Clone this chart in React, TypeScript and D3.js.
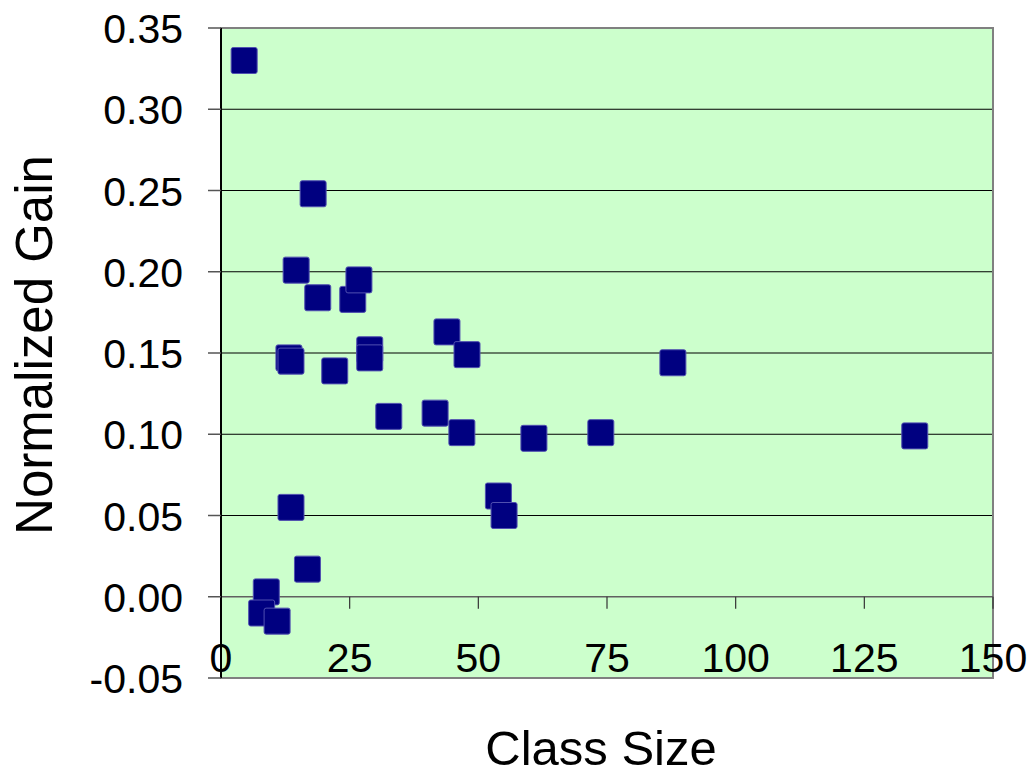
import React from "react";
import * as d3 from "d3";

const classSize = [4.5, 17.9, 14.6, 18.8, 25.6, 26.8, 13.2, 13.6, 22.1, 28.9, 28.9, 43.9, 47.8, 32.6, 41.6, 46.8, 60.8, 73.8, 87.8, 134.8, 53.9, 55.0, 13.6, 16.8, 8.8, 7.9, 10.9];
const normalizedGain = [0.330, 0.248, 0.201, 0.184, 0.183, 0.195, 0.147, 0.145, 0.139, 0.152, 0.147, 0.163, 0.149, 0.111, 0.113, 0.101, 0.0975, 0.101, 0.144, 0.099, 0.062, 0.050, 0.055, 0.017, 0.003, -0.010, -0.015];
const xTicks = [0, 25, 50, 75, 100, 125, 150];
const yTicks = [-0.05, 0, 0.05, 0.1, 0.15, 0.2, 0.25, 0.3, 0.35];

const W = 1034, H = 775;
const L = 221, R = 993, T = 28, B = 678;
const FONT = "'Liberation Sans', Arial, sans-serif";

export default function App() {
  const x = d3.scaleLinear().domain([0, 150]).range([L, R]);
  const y = d3.scaleLinear().domain([-0.05, 0.35]).range([B, T]);
  const ms = 26;
  const fmt = (t: number) => d3.format(".2f")(t).replace("\u2212", "-");
  return (
    <svg width={W} height={H} style={{ position: "absolute", left: 0, top: 0 }} fontFamily={FONT}>
      <rect x={0} y={0} width={W} height={H} fill="#ffffff" />
      <rect x={L} y={T} width={R - L} height={B - T} fill="#ccffcc" />
      {yTicks.filter(t => t > -0.05 && t < 0.35 && t !== 0).map(t => (
        <line key={"g" + t} x1={L} x2={R} y1={y(t)} y2={y(t)} stroke="#000000" strokeWidth={1.2} />
      ))}
      <rect x={L} y={T} width={R - L} height={B - T} fill="none" stroke="#808080" strokeWidth={2} />
      <line x1={L} x2={R} y1={y(0)} y2={y(0)} stroke="#606060" strokeWidth={1.5} />
      {xTicks.map(t => (
        <line key={"xt" + t} x1={x(t)} x2={x(t)} y1={y(0)} y2={y(0) + 12} stroke="#333333" strokeWidth={1.2} />
      ))}
      <line x1={L} x2={L} y1={T} y2={B} stroke="#000000" strokeWidth={2} />
      {yTicks.map(t => (
        <line key={"yt" + t} x1={L - 13} x2={L} y1={y(t)} y2={y(t)} stroke="#555555" strokeWidth={1.5} />
      ))}
      {yTicks.map(t => (
        <text key={"yl" + t} x={183} y={y(t) + 15} textAnchor="end" fontSize={41} fill="#000">
          {fmt(t)}
        </text>
      ))}
      {xTicks.map(t => (
        <text key={"xl" + t} x={x(t)} y={672} textAnchor="middle" fontSize={41} fill="#000">
          {t}
        </text>
      ))}
      {classSize.map((c, i) => (
        <rect key={"p" + i} x={x(c) - ms / 2} y={y(normalizedGain[i]) - ms / 2} width={ms} height={ms}
          rx={2} fill="#000080" stroke="#5050b0" strokeWidth={1} />
      ))}
      <text x={601} y={765} textAnchor="middle" fontSize={49} fill="#000">Class Size</text>
      <text transform={`translate(52,345) rotate(-90)`} textAnchor="middle" fontSize={51} fill="#000">Normalized Gain</text>
    </svg>
  );
}
